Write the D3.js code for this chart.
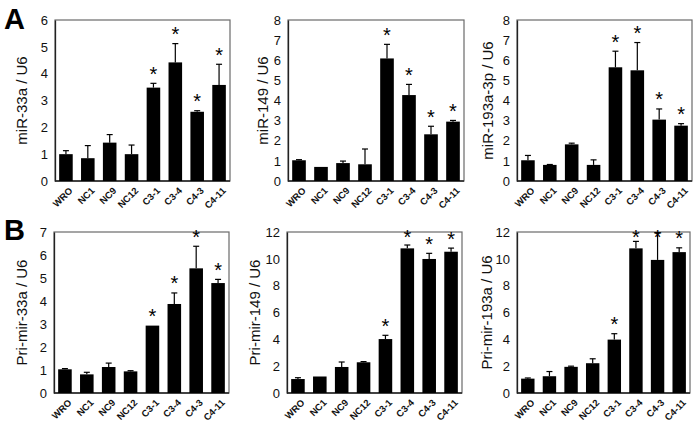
<!DOCTYPE html>
<html><head><meta charset="utf-8">
<script src="https://cdn.jsdelivr.net/npm/d3@7"></script>
<style>body{margin:0;background:#fff}svg{display:block;font-family:"Liberation Sans",Arial,sans-serif}</style>
</head><body><svg id="c" width="697" height="424"></svg>
<script>
const categories = ["WRO","NC1","NC9","NC12","C3-1","C3-4","C4-3","C4-11"];
const significant = [false,false,false,false,true,true,true,true];

const miR33a      = [1.00,0.85,1.43,1.00,3.48,4.42,2.58,3.58];
const miR33aErr   = [0.13,0.47,0.30,0.34,0.16,0.70,0.04,0.77];
const miR149      = [1.03,0.70,0.89,0.83,6.09,4.27,2.32,2.95];
const miR149Err   = [0.03,0.00,0.10,0.76,0.70,0.53,0.40,0.06];
const miR193a     = [1.03,0.80,1.82,0.80,5.65,5.50,3.05,2.75];
const miR193aErr  = [0.24,0.02,0.06,0.25,0.80,1.38,0.53,0.10];
const pri33a      = [1.03,0.81,1.13,0.94,2.93,3.87,5.42,4.78];
const pri33aErr   = [0.03,0.09,0.17,0.03,0.00,0.48,0.96,0.16];
const pri149      = [1.04,1.23,1.94,2.29,4.02,10.78,9.99,10.53];
const pri149Err   = [0.10,0.00,0.37,0.05,0.28,0.25,0.42,0.27];
const pri193a     = [1.07,1.25,1.95,2.22,3.98,10.78,9.92,10.50];
const pri193aErr  = [0.05,0.35,0.05,0.33,0.44,0.52,2.03,0.32];

const panels = [
  {label:"miR-33a / U6", vals:miR33a, errs:miR33aErr, max:6, step:1, x0:55, x1:230, y0:20, y1:181, lx:22},
  {label:"miR-149 / U6", vals:miR149, errs:miR149Err, max:8, step:1, x0:288, x1:464, y0:20, y1:181, lx:263},
  {label:"miR-193a-3p / U6", vals:miR193a, errs:miR193aErr, max:8, step:1, x0:517, x1:692, y0:20, y1:181, lx:488},
  {label:"Pri-mir-33a / U6", vals:pri33a, errs:pri33aErr, max:7, step:1, x0:54, x1:229, y0:232, y1:393, lx:22},
  {label:"Pri-mir-149 / U6", vals:pri149, errs:pri149Err, max:12, step:2, x0:287, x1:462, y0:232, y1:393, lx:255},
  {label:"Pri-mir-193a / U6", vals:pri193a, errs:pri193aErr, max:12, step:2, x0:517, x1:690, y0:232, y1:393, lx:487}
];

const svg = d3.select("#c");

panels.forEach(p => {
  const x = d3.scaleBand().domain(categories).range([p.x0, p.x1]).paddingInner(0.38).paddingOuter(0.19);
  const y = d3.scaleLinear().domain([0, p.max]).range([p.y1, p.y0]);
  const g = svg.append("g");
  // frame
  g.append("rect").attr("x", p.x0).attr("y", p.y0).attr("width", p.x1 - p.x0).attr("height", p.y1 - p.y0)
    .attr("fill", "none").attr("stroke", "#6a6a6a").attr("stroke-width", 1.2);
  // y axis
  const ticks = d3.range(0, p.max + 0.001, p.step);
  const ya = g.append("g").attr("transform", `translate(${p.x0},0)`)
    .call(d3.axisLeft(y).tickValues(ticks).tickSize(0).tickPadding(7).tickFormat(d3.format("d")));
  ya.select(".domain").attr("stroke", "#222").attr("stroke-width", 1.3);
  ya.selectAll("text").attr("font-size", 13).attr("fill", "#111").attr("font-family", '"Liberation Sans",Arial,sans-serif');
  // x axis line
  g.append("line").attr("x1", p.x0).attr("x2", p.x1).attr("y1", p.y1).attr("y2", p.y1).attr("stroke", "#222").attr("stroke-width", 1.3);
  // bars
  const data = categories.map((c, i) => ({c, v: p.vals[i], e: p.errs[i], s: significant[i]}));
  g.selectAll("rect.bar").data(data).join("rect").attr("class", "bar")
    .attr("x", d => x(d.c)).attr("width", x.bandwidth())
    .attr("y", d => y(d.v)).attr("height", d => y(0) - y(d.v)).attr("fill", "#000");
  // error bars
  const cap = 3;
  data.forEach(d => {
    if (d.e <= 0) return;
    const cx = x(d.c) + x.bandwidth() / 2;
    g.append("line").attr("x1", cx).attr("x2", cx).attr("y1", y(d.v)).attr("y2", y(d.v + d.e)).attr("stroke", "#000").attr("stroke-width", 1.2);
    g.append("line").attr("x1", cx - cap).attr("x2", cx + cap).attr("y1", y(d.v + d.e)).attr("y2", y(d.v + d.e)).attr("stroke", "#000").attr("stroke-width", 1.2);
  });
  // asterisks
  g.selectAll("text.star").data(data.filter(d => d.s)).join("text").attr("class", "star")
    .attr("x", d => x(d.c) + x.bandwidth() / 2)
    .attr("y", d => Math.max(y(d.v + d.e) - 3, p.y0 + 12))
    .attr("text-anchor", "middle").attr("font-size", 20).attr("fill", "#000").text("*")
    .attr("dy", "0.62em").attr("transform", null)
    .each(function(d){ const t=d3.select(this); t.attr("y", +t.attr("y") - 12); });
  // category labels
  g.selectAll("text.cat").data(categories).join("text").attr("class", "cat")
    .attr("transform", c => `translate(${x(c) + x.bandwidth() / 2 + 5},${p.y1 + 8}) rotate(-45)`)
    .attr("text-anchor", "end").attr("dy", "0.35em").attr("font-size", 9.5).attr("font-weight", "bold").attr("fill", "#111").text(c => c);
  // y label
  g.append("text").attr("transform", `translate(${p.lx},${(p.y0 + p.y1) / 2}) rotate(-90)`)
    .attr("text-anchor", "middle").attr("dy", "0.35em").attr("font-size", 15).attr("fill", "#111").text(p.label);
});

svg.append("text").attr("x", 4).attr("y", 29).attr("font-size", 29).attr("font-weight", "bold").text("A");
svg.append("text").attr("x", 4).attr("y", 240).attr("font-size", 29).attr("font-weight", "bold").text("B");
</script></body></html>
